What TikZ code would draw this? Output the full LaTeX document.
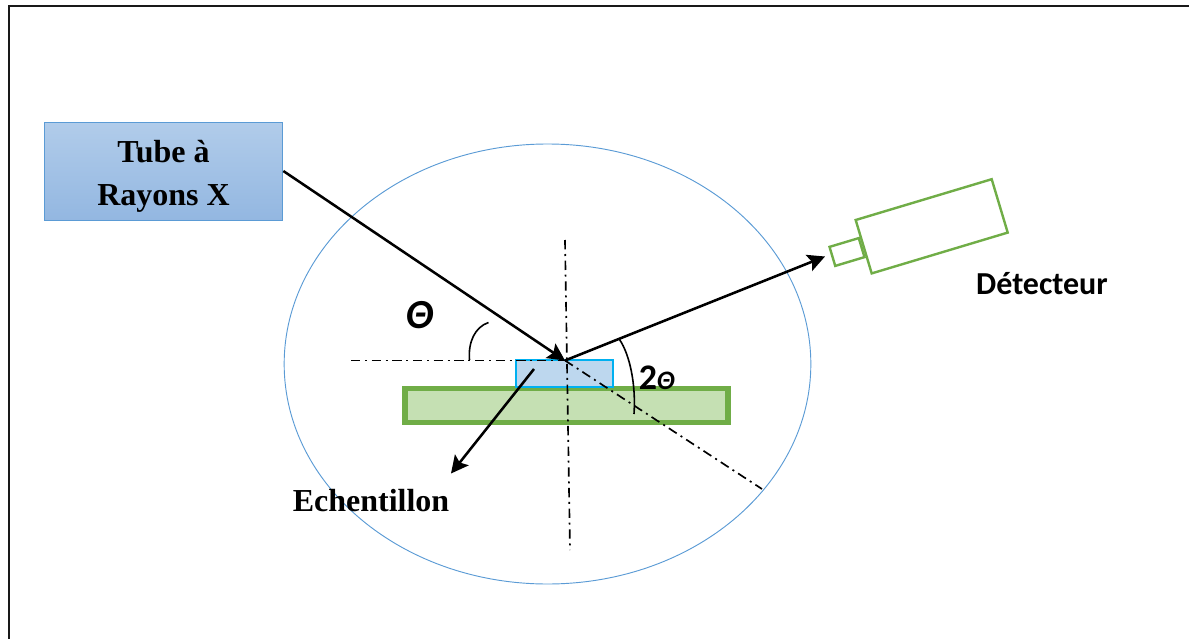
\documentclass[tikz,border=0pt]{standalone}
\usepackage{fontspec}
\setmainfont{Liberation Serif}
\newfontfamily\labelfont{Carlito}
\usetikzlibrary{shapes.geometric,arrows.meta}
\definecolor{tubetop}{HTML}{B1CCEA}
\definecolor{tubebottom}{HTML}{93B7E1}
\definecolor{tubeline}{HTML}{5B9BD5}
\definecolor{sampleline}{HTML}{00B0F0}
\definecolor{samplefill}{HTML}{BDD7EE}
\definecolor{plateline}{HTML}{70AD47}
\definecolor{platefill}{HTML}{C5E0B3}
\tikzset{
  tube/.style={rectangle, draw=tubeline, top color=tubetop, bottom color=tubebottom, line width=0.75pt,
    minimum width=179pt, minimum height=73.5pt, inner sep=0pt},
  tubetext/.style={align=center, inner sep=0pt, font=\fontsize{24}{32}\selectfont\bfseries},
  goniometer/.style={ellipse, draw=tubeline, line width=0.7pt, minimum width=395pt, minimum height=330pt, inner sep=0pt},
  sample/.style={rectangle, draw=sampleline, fill=samplefill, line width=1.3pt, minimum width=73pt, minimum height=20pt, inner sep=0pt},
  plate/.style={rectangle, draw=plateline, fill=platefill, line width=4.2pt, minimum width=242pt, minimum height=25.5pt, inner sep=0pt},
  detector/.style={rectangle, draw=plateline, line width=1.8pt, inner sep=0pt, rotate=16.7},
  ray/.style={line width=1.9pt, black, -{Stealth[length=13pt,width=13pt,inset=2.5pt]}},
  axis/.style={line width=1.25pt, dash pattern=on 7pt off 3.5pt on 1.5pt off 3.5pt},
  anglemark/.style={line width=1.2pt},
  frame/.style={line width=1.5pt, black!90}
}
\begin{document}
\begin{tikzpicture}[x=0.75pt,y=-0.75pt]
  \useasboundingbox (0,0) rectangle (1189,639);

  \draw[frame] (8.5,660) -- (8.5,5.5) -- (1195,5.5);

  \node[goniometer] (gonio) at (547.5,364) {};
  \node[plate] (support) at (566.5,405.5) {};
  \node[sample] (echant) at (564.5,373.5) {};

  \node[tube] (tube) at (163.5,171) {};
  \node[tubetext] (tubelabel) at (163.5,176) {Tube à\\Rayons X};
  \node[detector, minimum width=106.5pt, minimum height=41.8pt] (body) at (931.7,226.3) {};
  \node[detector, minimum width=22.9pt, minimum height=14.9pt] (window) at (847,252) {};

  \coordinate (impact) at (565,360.5);
  \coordinate (left) at (351,360.5);
  \coordinate (top) at (565,240);
  \coordinate (bottom) at (570,550);
  \coordinate (far) at (762,489);
  \coordinate (rayend) at (825,256.5);
  \coordinate (labelstart) at (534,369);
  \coordinate (labelend) at (451,473.5);

  \draw[axis] (left) -- (impact);
  \draw[axis] (top) -- (bottom);
  \draw[axis] (impact) -- (far);

  \draw[ray] (tube.east) -- (impact);
  \draw[ray] (impact) -- (rayend);
  \draw[ray] (labelstart) -- (labelend);

  \draw[anglemark] (469.5,360) .. controls (468,342) and (475,327) .. (488.5,322.5);
  \draw[anglemark] (619.5,339.5) .. controls (630,355) and (636,385) .. (634,414);

  \node[font=\labelfont\fontsize{31}{32}\selectfont\bfseries\itshape] (theta) at (420,315) {Θ};
  \node[font=\labelfont\fontsize{27}{27}\selectfont\bfseries, inner sep=0pt] (deux) at (657,378) {2{\itshape\fontsize{20}{20}\selectfont Θ}};
  \node[font=\labelfont\fontsize{24}{24}\selectfont\bfseries] (detecteur) at (1042,284) {Détecteur};
  \node[font=\fontsize{24}{26}\selectfont\bfseries] (echantillon) at (371,501) {Echentillon};
\end{tikzpicture}
\end{document}
